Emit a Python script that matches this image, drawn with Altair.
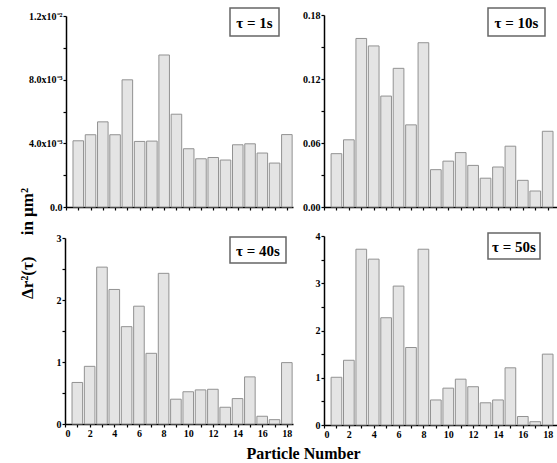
import altair as alt
import pandas as pd

particles = list(range(1, 19))
msd_1s = [4.16e-3, 4.54e-3, 5.35e-3, 4.54e-3, 7.99e-3, 4.12e-3, 4.14e-3, 9.55e-3, 5.83e-3,
          3.66e-3, 3.03e-3, 3.11e-3, 2.95e-3, 3.91e-3, 3.97e-3, 3.39e-3, 2.76e-3, 4.55e-3]
msd_10s = [0.050, 0.063, 0.158, 0.151, 0.104, 0.130, 0.077, 0.154, 0.035,
           0.043, 0.051, 0.039, 0.027, 0.0375, 0.057, 0.025, 0.015, 0.071]
msd_40s = [0.67, 0.93, 2.53, 2.17, 1.57, 1.90, 1.14, 2.43, 0.40,
           0.52, 0.55, 0.56, 0.27, 0.41, 0.76, 0.125, 0.07, 0.99]
msd_50s = [1.01, 1.37, 3.72, 3.51, 2.27, 2.94, 1.64, 3.72, 0.53,
           0.78, 0.97, 0.81, 0.47, 0.53, 1.21, 0.18, 0.07, 1.50]

taus = ["τ = 1s", "τ = 10s", "τ = 40s", "τ = 50s"]

y1_ticks = [0, 0.002, 0.004, 0.006, 0.008, 0.010, 0.012]
y1_labels = {0: "0.0", 0.004: "4.0x10⁻³", 0.008: "8.0x10⁻³", 0.012: "1.2x10⁻²"}
y2_ticks = [0, 0.03, 0.06, 0.09, 0.12, 0.15, 0.18]
y2_labels = {0: "0.00", 0.06: "0.06", 0.12: "0.12", 0.18: "0.18"}
y3_ticks = [0, 0.5, 1, 1.5, 2, 2.5, 3]
y3_labels = {0: "0", 1: "1", 2: "2", 3: "3"}
y4_ticks = [0, 0.5, 1, 1.5, 2, 2.5, 3, 3.5, 4]
y4_labels = {0: "0", 1: "1", 2: "2", 3: "3", 4: "4"}
x_ticks = list(range(0, 19))
x_labels = {v: str(v) for v in range(0, 19, 2)}

FONT = "Liberation Serif"
W, H = 557, 463


def key(k):
    k = float(k)
    return str(int(k)) if k == int(k) else repr(k)


def label_expr(mapping):
    items = ", ".join(f"'{key(k)}': '{v}'" for k, v in mapping.items())
    return "({" + items + "})[toString(datum.value)] || ''"


def panel(vals, ymax, yticks, ylabels, tau, xdom, xrange, yrange, show_xlabels, box,
          ytitle=None, xtitle=None):
    df = pd.DataFrame({"particle": particles, "msd": vals})
    xaxis = dict(orient="bottom", offset=-(H - yrange[0]), values=x_ticks,
                 labels=show_xlabels, tickSize=3, labelPadding=1)
    if show_xlabels:
        xaxis["labelExpr"] = label_expr(x_labels)
    yaxis = dict(orient="left", offset=-xrange[0], values=yticks,
                 labelExpr=label_expr(ylabels), tickSize=3, labelPadding=1)
    if xtitle:
        xaxis.update(title=xtitle, titleX=303, titleY=29, titleFontSize=16,
                     titleAlign="center", titleBaseline="middle")
    else:
        xaxis.update(title=None)
    if ytitle:
        yaxis.update(title=ytitle, titleX=27 - xrange[0], titleY=243, titleAngle=270,
                     titleFontSize=17, titleAlign="center", titleBaseline="middle")
    else:
        yaxis.update(title=None)
    bars = alt.Chart(df).transform_calculate(
        x0="datum.particle - 0.43", x1="datum.particle + 0.43"
    ).mark_bar(fill="#e4e4e4", stroke="#929292", strokeWidth=1).encode(
        x=alt.X("x0:Q", scale=alt.Scale(domain=[0, xdom], range=list(xrange), nice=False, zero=True),
                axis=alt.Axis(**xaxis)),
        x2="x1:Q",
        y=alt.Y("msd:Q", scale=alt.Scale(domain=[0, ymax], range=list(yrange), nice=False),
                axis=alt.Axis(**yaxis)),
        y2=alt.datum(0),
    )
    tdf = pd.DataFrame({"t": [tau]})
    bx0, bx1, by0, by1 = box
    rect = alt.Chart(tdf).mark_rect(fill="white", stroke="#666666", strokeWidth=1.5).encode(
        x=alt.value(bx0), x2=alt.value(bx1), y=alt.value(by0), y2=alt.value(by1))
    text = alt.Chart(tdf).mark_text(font=FONT, fontWeight="bold", fontSize=15,
                                    align="center", baseline="middle", color="black").encode(
        x=alt.value((bx0 + bx1) / 2), y=alt.value((by0 + by1) / 2 + 1), text="t:N")
    return [bars, rect, text]


layers = []
layers += panel(msd_1s, 0.012, y1_ticks, y1_labels, taus[0], 18.5, (66, 293), (207, 16), False,
                (230, 279, 8, 36))
layers += panel(msd_10s, 0.18, y2_ticks, y2_labels, taus[1], 18.75, (324, 557), (207, 15), False,
                (488, 545, 8, 36))
layers += panel(msd_40s, 3, y3_ticks, y3_labels, taus[2], 18.5, (65, 293), (424, 238), True,
                (230, 286, 237, 263), ytitle="Δr²(τ)\u00a0\u00a0\u00a0\u00a0\u00a0in μm²",
                xtitle="Particle Number")
layers += panel(msd_50s, 4, y4_ticks, y4_labels, taus[3], 18.75, (324, 557), (425, 236), True,
                (488, 540, 233, 259))

chart = alt.layer(*layers).resolve_scale(x="independent", y="independent").resolve_axis(
    x="independent", y="independent"
).properties(
    width=W, height=H, autosize=alt.AutoSizeParams(type="none"), padding=0, background="white",
).configure_view(stroke=None).configure_axis(
    domainColor="black", domainWidth=1.5, tickColor="black", tickWidth=1.2,
    labelFont=FONT, labelFontWeight="bold", labelFontSize=10, labelColor="black",
    titleFont=FONT, titleFontWeight="bold", titleColor="black", grid=False,
)

chart.save("out.html", embed_options={"renderer": "svg", "actions": False})
